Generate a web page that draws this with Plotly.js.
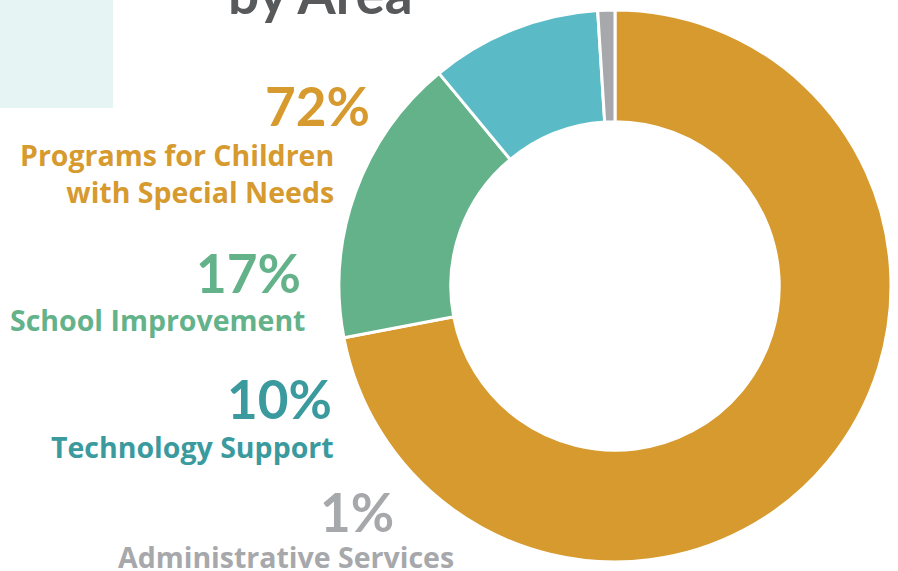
<!DOCTYPE html>
<html>
<head>
<meta charset="utf-8">
<script src="https://cdn.plot.ly/plotly-3.0.1.min.js"></script>
<style>html,body{margin:0;padding:0;background:#fff;}#chart{width:898px;height:571px;}</style>
</head>
<body>
<div id="chart"></div>
<script>
var categories = ["Programs for Children with Special Needs", "School Improvement", "Technology Support", "Administrative Services"];
var labelLines = ["Programs for Children<br>with Special Needs", "School Improvement", "Technology Support", "Administrative Services"];
var percents = [72, 17, 10, 1];
var sliceColors = ["#D69A2F", "#64B28A", "#5ABBC6", "#A7A8AB"];
var textColors = ["#D69A2F", "#64B28A", "#3A9A9E", "#A7A8AB"];
var titleText = "by Area";

var PCT_FONT = "Lato, 'Open Sans', sans-serif";
var LBL_FONT = "'Open Sans', Lato, sans-serif";

var trace = {
  type: "pie",
  labels: categories,
  values: percents,
  sort: false,
  direction: "clockwise",
  rotation: 0,
  hole: 0.595,
  textinfo: "none",
  hoverinfo: "none",
  showlegend: false,
  marker: {colors: sliceColors, line: {color: "#ffffff", width: 3}},
  domain: {x: [339/898, 891/898], y: [1 - 563/571, 1 - 9/571]}
};

// annotation positions (pixel y from top, right edge x)
var pctPos = [[372, 105], [303, 272], [334, 398], [396, 511]];
var lblPos = [[336, 174], [308, 320], [336, 447], [456, 557]];

function px(x) { return x / 898; }
function py(y) { return 1 - y / 571; }

var annotations = [];
for (var i = 0; i < categories.length; i++) {
  annotations.push({
    xref: "paper", yref: "paper", x: px(pctPos[i][0]), y: py(pctPos[i][1]),
    xanchor: "right", yanchor: "middle", showarrow: false,
    text: "<b>" + percents[i] + "%</b>",
    font: {family: PCT_FONT, size: 53, color: textColors[i]}
  });
  annotations.push({
    xref: "paper", yref: "paper", x: px(lblPos[i][0]), y: py(lblPos[i][1]),
    xanchor: "right", yanchor: "middle", align: "right", showarrow: false,
    text: "<b>" + labelLines[i] + "</b>",
    font: {family: LBL_FONT, size: 28.5, color: textColors[i]}
  });
}
annotations.push({
  xref: "paper", yref: "paper", x: px(320), y: py(-7),
  xanchor: "center", yanchor: "middle", showarrow: false,
  text: "<b>" + titleText + "</b>",
  font: {family: PCT_FONT, size: 55, color: "#58595B"}
});

var layout = {
  width: 898, height: 571,
  margin: {l: 0, r: 0, t: 0, b: 0},
  paper_bgcolor: "#ffffff",
  plot_bgcolor: "#ffffff",
  shapes: [{
    type: "rect", xref: "paper", yref: "paper",
    x0: 0, x1: px(113), y0: py(108), y1: py(0),
    fillcolor: "#E6F4F4", line: {width: 0}, layer: "below"
  }],
  annotations: annotations
};

Plotly.newPlot("chart", [trace], layout, {displayModeBar: false, staticPlot: true});
</script>
</body>
</html>
